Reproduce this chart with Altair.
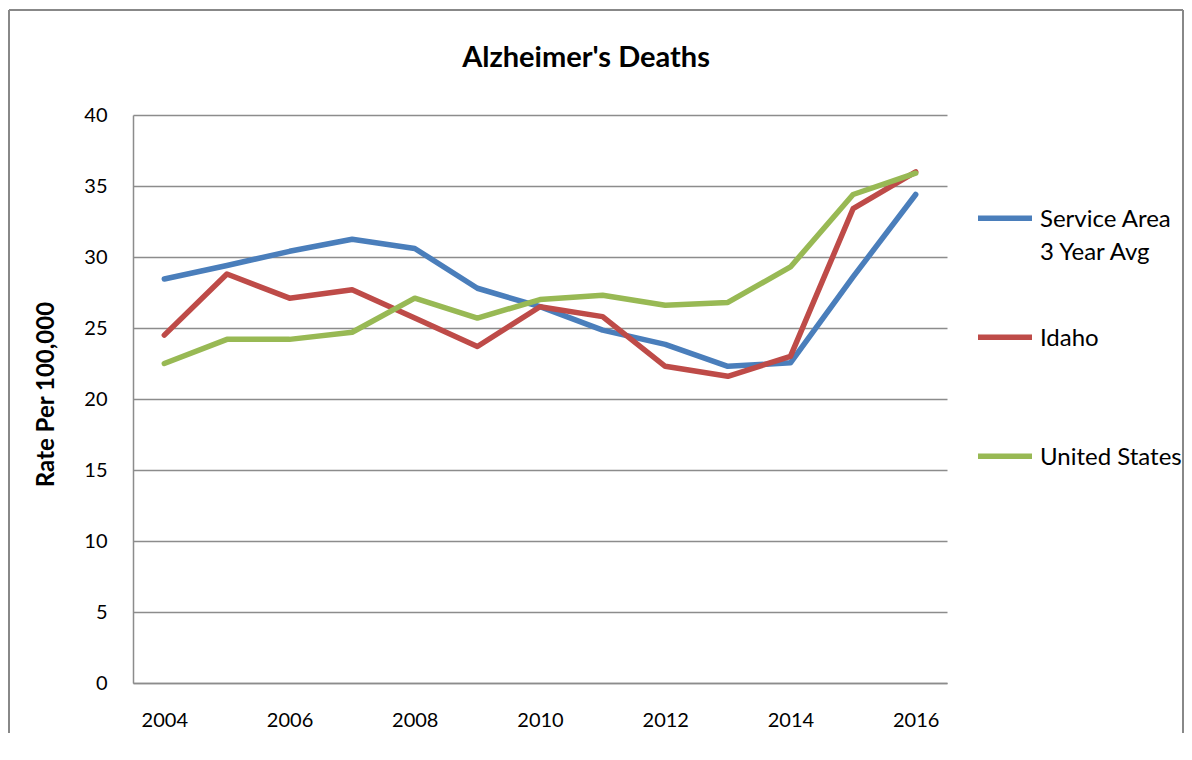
import altair as alt
import pandas as pd

years = [2004, 2005, 2006, 2007, 2008, 2009, 2010, 2011, 2012, 2013, 2014, 2015, 2016]
service_area = [28.45, 29.4, 30.4, 31.25, 30.6, 27.8, 26.5, 24.85, 23.85, 22.3, 22.55, 28.6, 34.4]
idaho = [24.5, 28.8, 27.1, 27.7, 25.7, 23.7, 26.5, 25.8, 22.3, 21.6, 23.0, 33.4, 36.0]
united_states = [22.5, 24.2, 24.2, 24.7, 27.1, 25.7, 27.0, 27.3, 26.6, 26.8, 29.3, 34.4, 35.9]

series_names = ["Service Area 3 Year Avg", "Idaho", "United States"]
series_colors = ["#4a7ebb", "#be4b48", "#98b954"]
x_tick_years = [2004, 2006, 2008, 2010, 2012, 2014, 2016]
y_ticks = [0, 5, 10, 15, 20, 25, 30, 35, 40]
chart_title = "Alzheimer's Deaths"

rows = []
for name, vals in zip(series_names, [service_area, idaho, united_states]):
    for yr, v in zip(years, vals):
        rows.append({"Year": yr, "Rate": v, "Series": name})
df = pd.DataFrame(rows)

FONT = "Lato"
GRID = "#8c8c8c"

lines = alt.Chart(df).mark_line(strokeWidth=5.5, strokeCap="round", strokeJoin="round").encode(
    x=alt.X("Year:O", sort=years,
            scale=alt.Scale(type="point", padding=0.5),
            axis=alt.Axis(values=x_tick_years, labelAngle=0, ticks=False, grid=False,
                          domainColor=GRID, domainWidth=1.5, labelPadding=27,
                          labelFontSize=20, labelFont=FONT, labelColor="#000", title=None)),
    y=alt.Y("Rate:Q", scale=alt.Scale(domain=[0, 40], nice=False),
            axis=alt.Axis(values=y_ticks, ticks=False, grid=True, gridColor=GRID, gridWidth=1.5,
                          domainColor=GRID, domainWidth=1.5, labelPadding=26,
                          labelFontSize=20, labelFont=FONT, labelColor="#000",
                          title="Rate Per 100,000", titleFont=FONT, titleFontSize=24,
                          titleFontWeight="bold", titleColor="#000", titlePadding=25,
                          titleY=279)),
    color=alt.Color("Series:N", sort=series_names,
                    scale=alt.Scale(domain=series_names, range=series_colors),
                    legend=alt.Legend(title=None, orient="none", legendX=842, legendY=82,
                                      symbolType="M-1,-0.32L1,-0.32", symbolSize=2916,
                                      symbolStrokeWidth=5.5, labelOffset=5,
                                      labelFont=FONT, labelFontSize=24, labelColor="#000",
                                      labelBaseline="alphabetic", labelLimit=400,
                                      gridAlign="all", rowPadding=51,
                                      labelExpr="datum.label == 'Service Area 3 Year Avg' ? ['Service Area', '3 Year Avg'] : datum.label")),
)

one = pd.DataFrame({"t": [chart_title]})
title_mark = alt.Chart(one).mark_text(font=FONT, fontSize=29, fontWeight="bold", color="#000",
                                      align="center", baseline="middle").encode(
    text="t:N", x=alt.value(453), y=alt.value(-57))
border_top = alt.Chart(one).mark_rule(color="#888888", strokeWidth=2).encode(
    x=alt.value(-124), x2=alt.value(1050), y=alt.value(-105))
border_left = alt.Chart(one).mark_rule(color="#888888", strokeWidth=2).encode(
    x=alt.value(-124), y=alt.value(-105), y2=alt.value(620))
border_right = alt.Chart(one).mark_rule(color="#888888", strokeWidth=2).encode(
    x=alt.value(1050), y=alt.value(-105), y2=alt.value(620))

chart = alt.layer(lines, title_mark, border_top, border_left, border_right).properties(
    width=814, height=568,
    autosize=alt.AutoSizeParams(type="none"),
    padding={"left": 125, "top": 107, "right": 237, "bottom": 50},
).configure(
    background="white",
    view=alt.ViewConfig(strokeWidth=0),
    style={"guide-label": {"lineHeight": 33}},
)

chart.save("out.html", embed_options={"renderer": "svg", "actions": False})
